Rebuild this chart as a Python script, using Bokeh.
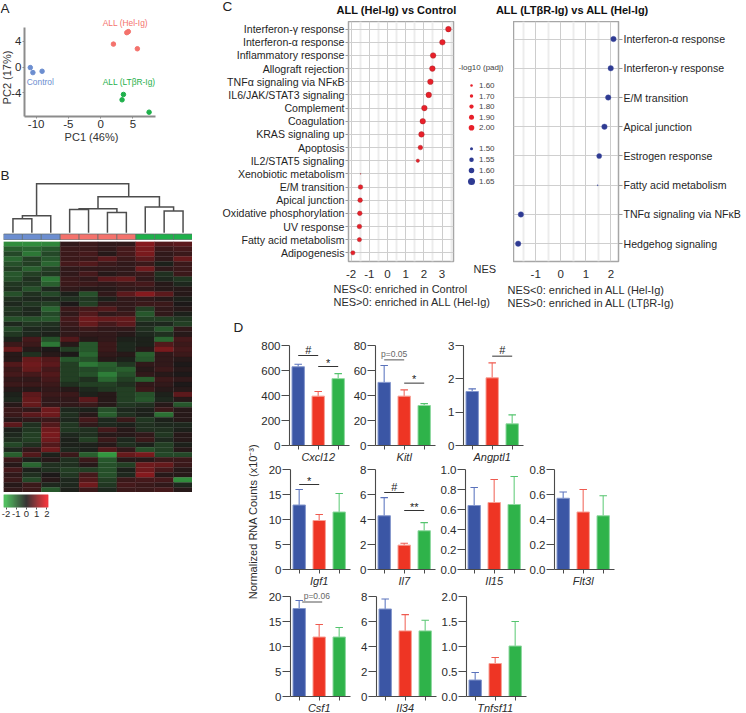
import numpy as np
from bokeh.core.properties import value
from bokeh.embed import file_html
from bokeh.models import (ColumnDataSource, FixedTicker, LinearColorMapper, Range1d)
from bokeh.plotting import figure
from bokeh.resources import INLINE

# ---------- DATA ----------
pca_blue_x = [-10.9, -10.5, -9.07]; pca_blue_y = [-0.08, -0.86, -0.65]
pca_red_x = [1.99, 4.06, 4.3, 5.7]; pca_red_y = [3.56, 5.34, 5.5, 2.84]
pca_green_x = [3.54, 3.33, 7.52]; pca_green_y = [-4.25, -5.08, -7.0]

# dendrogram merges: left node, right node, height (nodes 0-9 are leaves)
merge_left = [0, 10, 3, 5, 12, 8, 7, 14, 11]
merge_right = [1, 2, 4, 6, 13, 9, 15, 16, 17]
merge_height = [14, 17, 23.3, 20.3, 24, 21.7, 25.7, 36, 49]
sample_groups = [0, 0, 0, 1, 1, 1, 1, 2, 2, 2]

heat_rows = [
 [-1.5,-1.5,-1.4, .2, .3, .2, .2, 1.0, .5, .6],
 [-.9,-1.0,-.8, .3, .3, .2, .4, .9, .3, .4],
 [-.6,-1.2,-.6, .3, .4, .1, .4, .9, .2, .3],
 [-1.0,-.5,-.8, .3, .3, .6, .3, .6, .2, .7],
 [-.7,-.5,-1.0, .4, .5, .3, .2, .3,-.1, .3],
 [-.5,-.9,-.5, .2, .2, .2, .2, .8, .2, .3],
 [-.8,-.5,-.4, .2, .4, .1, .2, .3,-.3, .3],
 [-.7,-.3,-1.2, .3, .2, .6, .7, .2,-.2,-.4],
 [-.4,-.4,-.9, .3, .3, .2, .3, .4, .1,-.2],
 [-.3,-.7,-.2, .2, .1, .1, .2, .2, .1, .1],
 [-.7,-.3,-.6,-.1,-.7, .2, .6, 1.0, .6, .1],
 [-.3,-.2,-.2,-.3,-.4,-.1, .2, .2, .1,-.1],
 [-.2,-.4,-.5, .0,-.5, .2, .2, .3, .3, .0],
 [-.4,-.2,-1.0, .3, .4, .5, .2,-.5, .2, .1],
 [-.3,-.2,-.6, .2, .5, .2, .3,-.8, .2,-.1],
 [-.7,-.7,-.8, .4, .8, .7, .7,-.5,-.5,-.4],
 [-.2,-.4,-.3, .3, .7, .4, .6,-.2,-.2,-.5],
 [-.6,-.2,-.2, .2, .3, .2, .2,-.3,-.8, .2],
 [-.4,-.2,-.1, .2, .2, .2, .1,-.2,-.3, .1],
 [-.1, .4,-.7, .5, .1, .2,-.1,-.1,-1.0, .4],
 [ .3, .3,-1.2, .1,-.8, .3,-.2,-.1, .5, .3],
 [ .7, .1, .0,-.5,-.8, .3,-.2, .1, .9, .4],
 [ .1,-.3, .1, .0,-1.0, .2, .1,-.9, .2, .3],
 [ .1, .7, .5,-.8,-.7, .1,-.1,-.8, .2, .1],
 [ .5, .8, .6,-.5,-1.2,-.9,-.4, .2, .2, .0],
 [ .3, .7, .4,-.5,-.6,-.8,-.9, .1, .3, .1],
 [ .4, .4, .5,-.5,-.7,-1.3,-.7, .2, .1, .0],
 [ .2, .2, .4,-.5,-.3,-1.0,-.5,-.9, .3, .2],
 [ .3, .3, .3,-.3,-.5,-.5,-.3, .2, .2, .0],
 [ .1, .1, .2, .1,-.2,-.4,-.5, .3, .1, .1],
 [-.1, .6, .3, .3,-.1, .1,-.5,-.7,-.1, .6],
 [-.2, .7, .2, .2, .6, .1,-.5,-.8,-.2, .1],
 [ .1, .7, .2, .2, .3, .1,-.4,-.3, .1,-.8],
 [ .3, .2, .8,-.2,-.1,-.7,-.2,-.1, .3, .1],
 [ .3, .6, .8,-.3, .1,-.9,-.3,-.1,-1.1, .1],
 [ .1, .2, .3,-.2, .4,-.2, .3,-.4,-.1, .1],
 [ .6,-.3, .5,-.4, .2,-.2,-.1,-.3,-.2,-.2],
 [-.1,-.4, .8,-.4,-.3, .4, .1,-.3,-.3,-.1],
 [-.2,-.5, .9,-.2,-.3, .1, .1, .2,-.4, .1],
 [-.3,-.5, .8,-.1,-.5, .3,-.2, .3,-.2, .1],
 [-.6,-.3, .5,-.1,-.1, .1,-.3,-.1,-.5,-.1],
 [-.2, .2, .8,-.2,-.1, .5, .2,-.7,-.5, .1],
 [-.9, .5,-.1, .3,-.9,-1.6, .7, .9,-.6,-.6],
 [ .3,-.1, .1,-.3, .3,-.8, .1, .1, .3, .3],
 [ .1,-1.0,-.3,-.3, .1,-.7,-.5, .8, .7, .3],
 [ .4,-.1,-.3,-.5,-.5,-.7,-.1, .8, .4, .1],
 [ .2,-.3, .0,-.4, .4,-.7,-.2, 1.0, .1, .1],
 [ .3,-.6, .1,-.2, .5,-.5, .3, .4, .4,-1.5],
 [ .1, .3,-.2,-.2, .8,-.4, .4, .3, .2,-.2],
 [ .2, .3,-.8,-.1, .3,-.2, .3, .3, .4, .1],
]

c1_terms = ["Interferon-γ response", "Interferon-α response", "Inflammatory response", "Allograft rejection",
            "TNFα signaling via NFκB", "IL6/JAK/STAT3 signaling", "Complement", "Coagulation", "KRAS signaling up",
            "Apoptosis", "IL2/STAT5 signaling", "Xenobiotic metabolism", "E/M transition", "Apical junction",
            "Oxidative phosphorylation", "UV response", "Fatty acid metabolism", "Adipogenesis"]
c1_nes = [3.35, 3.02, 2.51, 2.47, 2.36, 2.27, 2.03, 1.94, 1.87, 1.81, 1.67, -1.47, -1.48, -1.50, -1.52, -1.54, -1.54, -1.90]
c1_padj = [2.0, 2.0, 2.0, 2.0, 2.0, 2.0, 2.0, 2.0, 2.0, 1.85, 1.7, 1.45, 1.85, 1.85, 1.85, 1.85, 1.8, 1.8]

c2_terms = ["Interferon-α response", "Interferon-γ response", "E/M transition", "Apical junction",
            "Estrogen response", "Fatty acid metabolism", "TNFα signaling via NFκB", "Hedgehog signaling"]
c2_nes = [2.10, 1.99, 1.89, 1.74, 1.53, 1.47, -1.59, -1.70]
c2_padj = [1.6, 1.6, 1.6, 1.6, 1.58, 1.4, 1.6, 1.6]

legend_red = [1.60, 1.70, 1.80, 1.90, 2.00]
legend_blue = [1.50, 1.55, 1.60, 1.65]

genes = ["Cxcl12", "Kitl", "Angptl1", "Igf1", "Il7", "Il15", "Flt3l", "Csf1", "Il34", "Tnfsf11"]
means = [[630, 395, 535], [50.5, 39.5, 32], [1.62, 2.03, 0.65],
         [12.9, 9.8, 11.5], [4.3, 1.95, 3.1], [0.64, 0.67, 0.65], [0.57, 0.46, 0.43],
         [17.6, 11.9, 11.9], [7, 5.25, 5.25], [0.33, 0.66, 1.01]]
err_tops = [[650, 432, 575], [64, 44.5, 33.5], [1.7, 2.48, 0.92],
            [16, 11, 15.2], [5.75, 2.1, 3.75], [0.82, 0.90, 0.93], [0.62, 0.64, 0.59],
            [19.2, 14.4, 13.8], [7.8, 6.55, 6.1], [0.48, 0.78, 1.5]]
tick_labels = [["0", "200", "400", "600", "800"], ["0", "20", "40", "60", "80"], ["0", "1", "2", "3"],
               ["0", "5", "10", "15", "20"], ["0", "2", "4", "6", "8"], ["0.0", "0.2", "0.4", "0.6", "0.8", "1.0"],
               ["0.0", "0.2", "0.4", "0.6", "0.8"], ["0", "5", "10", "15", "20"], ["0", "2", "4", "6", "8"],
               ["0.0", "0.5", "1.0", "1.5", "2.0"]]
# gene: (bar from, bar to, y, label, label centre)
signif = {"Cxcl12": [(0, 1, 720, "#", 0.5), (1, 2, 632, "*", 1.5)],
          "Kitl": [(0, 1, 68.5, "p=0.05", 0.5), (1, 2, 49.9, "*", 1.5)],
          "Angptl1": [(1, 2, 2.68, "#", 1.5)],
          "Igf1": [(0, 1, 17.0, "*", 0.5)],
          "Il7": [(0, 1, 6.16, "#", 0.5), (1, 2, 4.72, "**", 1.5)],
          "Csf1": [(0.15, 1.15, 18.9, "p=0.06", 0.88)]}

# ---------- STYLE / LAYOUT ----------
FONT = "Liberation Sans"
INK = "#2b2b2b"
BLUE, RED, GREEN = "#6c8ed0", "#f4726c", "#1fb04b"
BAR = ["#3b56a5", "#ee3524", "#2fb34a"]
BAR_EDGE = ["#8396cc", "#f8a095", "#8fd8a0"]
STEM = ["#7a8fcc", "#f4837a", "#7fd693"]
CAP = ["#5a72bb", "#ef5a4f", "#54c36e"]
ANNOT = [BLUE, RED, GREEN]
figs = []


def panel(l, t, r, b, xr, yr, pl=0, pr=0, pt=0, pb=0, **kw):
    p = figure(width=r - l + pl + pr, height=b - t + pt + pb,
               x_range=Range1d(*xr), y_range=Range1d(*yr),
               toolbar_location=None, output_backend="svg",
               min_border_left=pl, min_border_right=pr, min_border_top=pt, min_border_bottom=pb,
               background_fill_color=None, border_fill_color=None, outline_line_color=None,
               margin=0,
               styles={"position": "absolute", "left": f"{l - pl}px", "top": f"{t - pt}px"}, **kw)
    p.grid.visible = False
    figs.append(p)
    return p


def style_axis(ax, size="11.5px"):
    ax.major_label_text_font = FONT
    ax.major_label_text_font_size = size
    ax.major_label_text_color = INK
    ax.minor_tick_line_color = None


def label(p, x, y, txt, size="11px", color=INK, align="left", base="middle", angle=0, style="normal", **kw):
    p.text([x], [y], text=[txt], text_font=value(FONT), text_font_size=value(size), text_color=color,
           text_align=align, text_baseline=base, angle=angle, text_font_style=style, **kw)


# page layer for free-standing texts
page = panel(0, 0, 746, 713, (0, 746), (713, 0))
page.xaxis.visible = False
page.yaxis.visible = False
for txt, x, y in [("A", 0, 8), ("B", 0, 175), ("C", 222, 6), ("D", 233, 327)]:
    label(page, x, y, txt, "13.5px", "#222222")
label(page, 91, 136, "PC1 (46%)", "11px", "#333333", "center")
label(page, 6, 77, "PC2 (17%)", "11px", "#333333", "center", angle=np.pi / 2)
label(page, 396, 9, "ALL (Hel-Ig) vs Control", "11px", "#111111", "center", style="bold")
label(page, 572, 9, "ALL (LTβR-Ig) vs ALL (Hel-Ig)", "11px", "#111111", "center", style="bold")
label(page, 473, 268, "NES", "11px", INK)
label(page, 333, 288, "NES<0: enriched in Control", "11px", INK)
label(page, 333, 301.5, "NES>0: enriched in ALL (Hel-Ig)", "11px", INK)
label(page, 507, 289, "NES<0: enriched in ALL (Hel-Ig)", "11px", INK)
label(page, 507, 302.5, "NES>0: enriched in ALL (LTβR-Ig)", "11px", INK)
label(page, 252, 521, "Normalized RNA Counts (x10⁻³)", "11px", INK, "center", angle=np.pi / 2)

# ---------- A: PCA ----------
pA = panel(24, 15, 172, 116, (-11.8, 11.15), (-7.67, 8.0), pl=22, pb=18)
for xs, ys, c in [(pca_blue_x, pca_blue_y, BLUE), (pca_red_x, pca_red_y, RED), (pca_green_x, pca_green_y, GREEN)]:
    pA.scatter(xs, ys, size=4.5, color=c)
label(pA, -11.44, -2.3, "Control", "8.4px", BLUE)
label(pA, 0.34, 6.84, "ALL (Hel-Ig)", "8.4px", RED)
label(pA, 0.34, -2.3, "ALL (LTβR-Ig)", "8.4px", GREEN)
for ax in (pA.xaxis[0], pA.yaxis[0]):
    style_axis(ax)
    ax.axis_line_color = "#8c8c8c"
    ax.axis_line_width = 2
    ax.major_tick_line_color = "#8c8c8c"
    ax.major_tick_in = 0
    ax.major_tick_out = 2
    ax.major_label_standoff = 1
pA.xaxis.ticker = FixedTicker(ticks=[-10, -5, 0, 5])
pA.xaxis.major_label_overrides = {-10: "-10", -5: "-5", 0: "0", 5: "5"}
pA.xaxis.bounds = (-11.8, 8.45)
pA.yaxis.ticker = FixedTicker(ticks=[-4, 0, 4])
pA.yaxis.major_label_overrides = {-4: "-4", 0: "0", 4: "4"}
pA.yaxis.bounds = (-7.67, 6.17)

# ---------- B: dendrogram, sample bar, heatmap, colour key ----------
pD = panel(3, 178, 192, 240, (0, 10), (-7.7, 54.3))
pD.xaxis.visible = False
pD.yaxis.visible = False
pos = {i: (i + 0.5, 0.0) for i in range(10)}
dx, dy = [], []
for n, (lf, rt, h) in enumerate(zip(merge_left, merge_right, merge_height)):
    xl, yl = pos[lf]
    xr_, yr_ = pos[rt]
    dx.append([xl, xl, xr_, xr_])
    dy.append([yl, h, h, yr_])
    pos[10 + n] = ((xl + xr_) / 2, h)
pD.multi_line(dx, dy, line_color="#4d4d4d", line_width=1.5, line_join="miter")
pD.quad(left=list(range(10)), right=list(range(1, 11)), bottom=[-6.9] * 10, top=[-1.2] * 10,
        fill_color=[ANNOT[g] for g in sample_groups], line_color="#5f6b6b", line_width=0.7)

stops = np.array([[0x39, 0xb5, 0x4a], [0x1c, 0x19, 0x19], [0xed, 0x1c, 0x24]], dtype=float)
t = np.linspace(0, 2, 128)
palette = ["#%02x%02x%02x" % tuple(int(np.interp(v, [0, 1, 2], stops[:, k])) for k in range(3)) for v in t]
mapper = LinearColorMapper(palette=palette, low=-2, high=2)

pH = panel(3, 241, 192, 492, (0, 10), (50, 0))
pH.xaxis.visible = False
pH.yaxis.visible = False
arr = np.array(heat_rows)
rows, cols = np.indices(arr.shape)
hs = ColumnDataSource(dict(l=cols.ravel(), r=cols.ravel() + 1, t=rows.ravel(), b=rows.ravel() + 1, v=arr.ravel()))
pH.quad(left="l", right="r", top="t", bottom="b", source=hs,
        fill_color={"field": "v", "transform": mapper}, line_color={"field": "v", "transform": mapper}, line_width=0.3)

pK = panel(3, 494, 48, 507, (-2.25, 2.16), (0, 1), pb=14, pl=3, pr=4)
kx = np.linspace(-2.25, 2.16, 46)
kv = np.clip((kx[:-1] + kx[1:]) / 2, -2, 2)
ks = ColumnDataSource(dict(l=kx[:-1], r=kx[1:], t=[1] * 45, b=[0] * 45, v=kv))
pK.quad(left="l", right="r", top="t", bottom="b", source=ks,
        fill_color={"field": "v", "transform": mapper}, line_color={"field": "v", "transform": mapper}, line_width=0.3)
pK.yaxis.visible = False
style_axis(pK.xaxis[0], "9.5px")
pK.xaxis.ticker = FixedTicker(ticks=[-2, -1, 0, 1, 2])
pK.xaxis.major_label_overrides = {-2: "-2", -1: "-1", 0: "0", 1: "1", 2: "2"}
pK.xaxis.axis_line_color = None
pK.xaxis.major_tick_line_color = "#555555"
pK.xaxis.major_tick_in = 0
pK.xaxis.major_tick_out = 2
pK.xaxis.major_label_standoff = 1

# ---------- C: dot plots ----------
def red_size(v):
    return np.interp(v, [1.45, 1.6, 1.7, 1.8, 1.9, 2.0], [0.8, 2.5, 3.4, 4.3, 5.0, 5.6])


def blue_size(v):
    return np.interp(v, [1.4, 1.5, 1.55, 1.6, 1.65], [1.0, 3.0, 4.5, 5.5, 7.0])


def dot_frame(p, major, minor):
    p.outline_line_color = "#a6a6a6"
    p.outline_line_width = 1.5
    p.xaxis.ticker = FixedTicker(ticks=major, minor_ticks=minor)
    p.xaxis.major_label_overrides = {m: str(m) for m in major}
    p.grid.visible = True
    p.xgrid.grid_line_color = "#cdcdcd"
    p.xgrid.grid_line_width = 1
    p.xgrid.minor_grid_line_color = "#ececec"
    p.xgrid.minor_grid_line_width = 2
    p.ygrid.grid_line_color = "#cfcfcf"
    p.ygrid.grid_line_width = 1
    xa = p.xaxis[0]
    ya = p.yaxis[0]
    style_axis(xa)
    style_axis(ya, "10.6px")
    xa.axis_line_color = None
    xa.major_tick_line_color = None
    xa.major_label_standoff = 2
    ya.axis_line_color = None
    ya.major_tick_line_color = "#9a9a9a"
    ya.major_tick_in = 0
    ya.major_tick_out = 3
    ya.major_label_standoff = 1
    ya.major_label_text_color = "#1f1f1f"


pC1 = panel(348, 21, 453, 262, (-2.14, 3.63), (17.66, -0.58), pl=135, pb=18, pr=3)
dot_frame(pC1, [-2, -1, 0, 1, 2, 3], [-1.5, -0.5, 0.5, 1.5, 2.5, 3.5])
pC1.yaxis.ticker = FixedTicker(ticks=list(range(18)))
pC1.yaxis.major_label_overrides = {i: s for i, s in enumerate(c1_terms)}
pC1.scatter(c1_nes, list(range(18)), size=red_size(np.array(c1_padj)), fill_color="#e8202a", line_color="#9b2a2e", line_width=0.4)

pC2 = panel(513, 21, 618, 262, (-1.885, 2.30), (7.61, -0.6), pr=128, pb=18, y_axis_location="right")
dot_frame(pC2, [-1, 0, 1, 2], [-1.5, -0.5, 0.5, 1.5])
pC2.yaxis.ticker = FixedTicker(ticks=list(range(8)))
pC2.yaxis.major_label_overrides = {i: s for i, s in enumerate(c2_terms)}
pC2.yaxis.major_tick_out = 4
pC2.scatter(c2_nes, list(range(8)), size=blue_size(np.array(c2_padj)), fill_color="#2e3a92", line_color="#4a55a6", line_width=0.4)

pL = panel(456, 60, 510, 190, (456, 510), (190, 60))
pL.xaxis.visible = False
pL.yaxis.visible = False
label(pL, 458, 66.7, "-log10 (padj)", "8px", "#444444")
for i, v in enumerate(legend_red):
    yy = 85 + 10.55 * i
    pL.scatter([471], [yy], size=float(red_size(v)), fill_color="#e8202a", line_color=None)
    label(pL, 478.5, yy, f"{v:.2f}", "8px", "#444444")
for i, v in enumerate(legend_blue):
    yy = 148.3 + 10.9 * i
    pL.scatter([471], [yy], size=float(blue_size(v)), fill_color="#2e3a92", line_color=None)
    label(pL, 478.5, yy, f"{v:.2f}", "8px", "#444444")

# ---------- D: bar panels ----------
spine_x = [289, 375, 463, 290, 375, 465, 554, 290, 376, 466]
frame_y = [345, 345, 345, 469, 469, 469, 469, 596, 596, 596]
HEAD = 14
for g, m, e, labs, sx, ft in zip(genes, means, err_tops, tick_labels, spine_x, frame_y):
    vals = [float(s) for s in labs]
    top = vals[-1]
    p = panel(sx, ft - HEAD, sx + 60, ft + 100, (-0.435, 2.565), (0, top * (100 + HEAD) / 100), pl=36, pr=1, pb=22)
    xs = [0, 1, 2]
    p.segment(xs, m, xs, e, line_color=STEM, line_width=1.3)
    p.scatter(xs, e, marker="dash", size=7.5, line_color=CAP, line_width=1.1)
    p.vbar(x=xs, top=m, bottom=0, width=0.62, fill_color=BAR, line_color=BAR_EDGE, line_width=1)
    for x0, x1, y, txt, tx in signif.get(g, []):
        small = txt.startswith("p")
        p.segment([x0], [y], [x1], [y], line_color="#555555" if small else "#333333", line_width=1)
        label(p, tx, y, txt, "8.5px" if small else "11px", "#666666" if small else "#222222",
              "center", "bottom", y_offset=-1 if small else (2 if "*" in txt else 0))
    xa, ya = p.xaxis[0], p.yaxis[0]
    style_axis(xa, "11px")
    style_axis(ya)
    xa.ticker = FixedTicker(ticks=xs)
    xa.major_label_overrides = {0: "", 1: g, 2: ""}
    xa.major_label_text_font_style = "italic"
    xa.major_label_standoff = 1
    xa.major_tick_out = 4
    xa.major_tick_in = 0
    ya.ticker = FixedTicker(ticks=vals)
    ya.major_label_overrides = {v: s for v, s in zip(vals, labs)}
    ya.bounds = (0, top)
    ya.major_tick_out = 8
    ya.major_tick_in = 0
    ya.major_label_standoff = 1
    for ax in (xa, ya):
        ax.axis_line_color = "#4a4a4a"
        ax.axis_line_width = 1.1
        ax.major_tick_line_color = "#4a4a4a"

open("out.html", "w").write(file_html(figs, INLINE))
